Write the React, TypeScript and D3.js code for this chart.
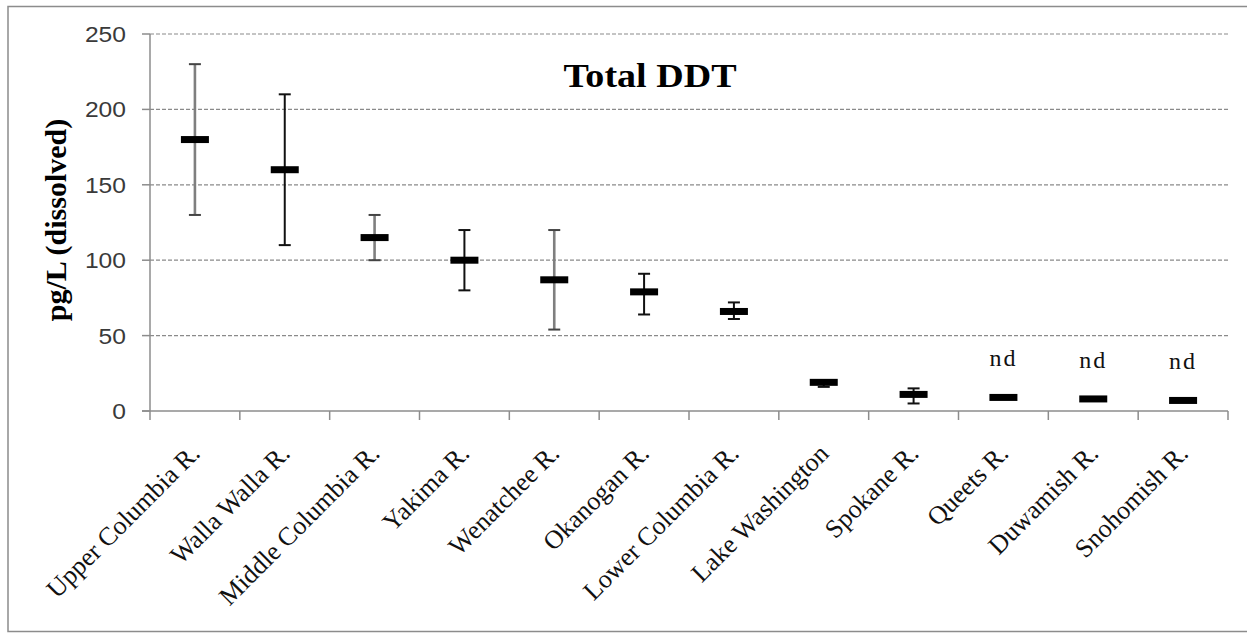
import React, { useEffect, useRef } from 'react';
import * as d3 from 'd3';

const categories = [
  'Upper Columbia R.',
  'Walla Walla R.',
  'Middle Columbia R.',
  'Yakima R.',
  'Wenatchee R.',
  'Okanogan R.',
  'Lower Columbia R.',
  'Lake Washington',
  'Spokane R.',
  'Queets R.',
  'Duwamish R.',
  'Snohomish R.',
];
const means = [180, 160, 115, 100, 87, 79, 66, 19, 11, 9, 8, 7];
const lows: (number | null)[] = [130, 110, 100, 80, 54, 64, 61, 16, 5, null, null, null];
const highs: (number | null)[] = [230, 210, 130, 120, 120, 91, 72, 20, 15, null, null, null];
const notDetected = [false, false, false, false, false, false, false, false, false, true, true, true];
const yTicks = [0, 50, 100, 150, 200, 250];

// whisker colour per category (some of the original bars are grey)
const whiskerColors = ['#7f7f7f', '#111', '#7f7f7f', '#111', '#7f7f7f', '#111', '#111', '#111', '#111', '#111', '#111', '#111'];

const W = 1247;
const H = 633;

const App: React.FC = () => {
  const svgRef = useRef<SVGSVGElement>(null);

  useEffect(() => {
    if (!svgRef.current) return;
    const svg = d3.select(svgRef.current);
    svg.selectAll('*').remove();

    const left = 150;
    const right = 1228;
    const top = 34;
    const bottom = 411;

    const x = d3.scaleBand<string>().domain(categories).range([left, right]).padding(0);
    const y = d3.scaleLinear().domain([0, 250]).range([bottom, top]);
    const cx = (c: string) => (x(c) ?? 0) + x.bandwidth() / 2;

    // Outer frame
    svg.append('rect')
      .attr('x', 8).attr('y', 6.5)
      .attr('width', 1260).attr('height', 625)
      .attr('fill', 'white')
      .attr('stroke', '#8c8c8c')
      .attr('stroke-width', 1.5);

    // Grid lines
    svg.append('g')
      .selectAll('line')
      .data(yTicks.filter(t => t > 0))
      .enter()
      .append('line')
      .attr('x1', left).attr('x2', right)
      .attr('y1', d => y(d)).attr('y2', d => y(d))
      .attr('stroke', '#8a8a8a')
      .attr('stroke-width', 1.2)
      .attr('stroke-dasharray', '4,2');

    // Y axis
    svg.append('line')
      .attr('x1', left).attr('x2', left)
      .attr('y1', top).attr('y2', bottom)
      .attr('stroke', '#8c8c8c').attr('stroke-width', 1.5);

    svg.append('g')
      .selectAll('line')
      .data(yTicks)
      .enter()
      .append('line')
      .attr('x1', left - 8).attr('x2', left)
      .attr('y1', d => y(d)).attr('y2', d => y(d))
      .attr('stroke', '#8c8c8c').attr('stroke-width', 1.5);

    svg.append('g')
      .selectAll('text')
      .data(yTicks)
      .enter()
      .append('text')
      .attr('transform', d => `translate(126,${y(d)}) scale(1.12,1)`)
      .attr('dy', '0.36em')
      .attr('text-anchor', 'end')
      .attr('font-family', '"Liberation Sans", Arial, sans-serif')
      .attr('font-size', 22)
      .attr('fill', '#3a3a3a')
      .text(d => d);

    // X axis
    svg.append('line')
      .attr('x1', left - 8).attr('x2', right)
      .attr('y1', bottom).attr('y2', bottom)
      .attr('stroke', '#8c8c8c').attr('stroke-width', 1.5);

    const boundaries = categories.map(c => x(c) ?? 0).concat([right]);
    svg.append('g')
      .selectAll('line')
      .data(boundaries)
      .enter()
      .append('line')
      .attr('x1', d => d).attr('x2', d => d)
      .attr('y1', bottom).attr('y2', bottom + 9)
      .attr('stroke', '#8c8c8c').attr('stroke-width', 1.5);

    svg.append('g')
      .selectAll('text')
      .data(categories)
      .enter()
      .append('text')
      .attr('transform', d => `translate(${cx(d) + 6.5},${bottom + 44}) rotate(-45)`)
      .attr('text-anchor', 'end')
      .attr('font-family', '"Liberation Serif", "Times New Roman", serif')
      .attr('font-size', 26)
      .attr('fill', '#111')
      .text(d => d);

    // Error bars
    const bars = svg.append('g');
    categories.forEach((c, i) => {
      const lo = lows[i];
      const hi = highs[i];
      if (lo === null || hi === null) return;
      const color = whiskerColors[i];
      const sw = color === '#111' ? 2 : 2.6;
      bars.append('line')
        .attr('x1', cx(c)).attr('x2', cx(c))
        .attr('y1', y(lo)).attr('y2', y(hi))
        .attr('stroke', color).attr('stroke-width', sw);
      [lo, hi].forEach(v => {
        bars.append('line')
          .attr('x1', cx(c) - 6).attr('x2', cx(c) + 6)
          .attr('y1', y(v)).attr('y2', y(v))
          .attr('stroke', color === '#111' ? '#111' : '#444')
          .attr('stroke-width', 2);
      });
    });

    // Mean markers
    svg.append('g')
      .selectAll('rect')
      .data(means)
      .enter()
      .append('rect')
      .attr('x', (_, i) => cx(categories[i]) - 14)
      .attr('y', d => y(d) - 3.5)
      .attr('width', 28)
      .attr('height', 7)
      .attr('fill', '#000');

    // nd labels
    svg.append('g')
      .selectAll('text')
      .data(means.map((m, i) => ({ m, c: categories[i], nd: notDetected[i] })).filter(d => d.nd))
      .enter()
      .append('text')
      .attr('x', d => cx(d.c))
      .attr('y', d => y(d.m) - 31)
      .attr('text-anchor', 'middle')
      .attr('font-family', '"Liberation Serif", "Times New Roman", serif')
      .attr('font-size', 24)
      .attr('letter-spacing', 2)
      .attr('fill', '#111')
      .text('nd');

    // Title
    svg.append('text')
      .attr('transform', 'translate(650,87) scale(1.12,1)')
      .attr('text-anchor', 'middle')
      .attr('font-family', '"Liberation Serif", "Times New Roman", serif')
      .attr('font-weight', 'bold')
      .attr('font-size', 34)
      .attr('fill', '#000')
      .text('Total DDT');

    // Y axis title
    svg.append('text')
      .attr('transform', 'translate(66,220) rotate(-90)')
      .attr('text-anchor', 'middle')
      .attr('font-family', '"Liberation Serif", "Times New Roman", serif')
      .attr('font-weight', 'bold')
      .attr('font-size', 30)
      .attr('fill', '#000')
      .text('pg/L (dissolved)');
  }, []);

  return (
    <svg
      ref={svgRef}
      width={W}
      height={H}
      style={{ position: 'absolute', left: 0, top: 0, display: 'block' }}
    />
  );
};

export default App;
